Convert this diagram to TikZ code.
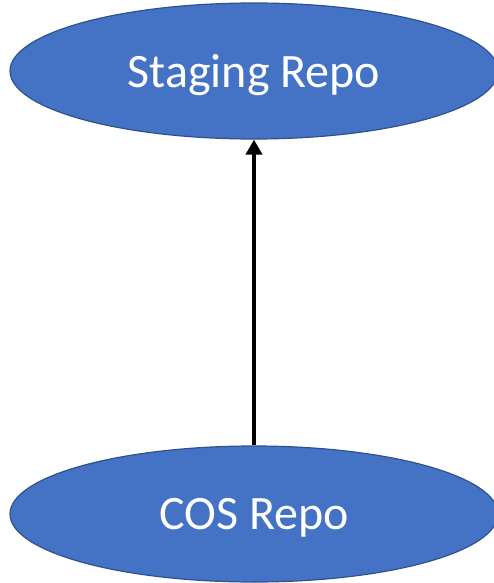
\documentclass[tikz,border=0pt]{standalone}
\usepackage{fontspec}
\setmainfont{Carlito}
\usetikzlibrary{shapes.geometric,arrows.meta}
\definecolor{fillblue}{HTML}{4472C4}
\definecolor{edgeblue}{HTML}{2F528F}
\tikzset{
  repo/.style={ellipse, draw=edgeblue, line width=1.2pt, fill=fillblue,
    minimum width=488pt, minimum height=136pt, inner sep=0pt,
    text depth=0pt, text=white, font=\fontsize{48}{56}\selectfont},
  flow/.style={line width=4pt, -{Triangle[length=15pt,width=16pt]}}
}
\begin{document}
\begin{tikzpicture}[x=1pt,y=1pt]
\useasboundingbox (0,0) rectangle (494,-583);
\node[repo] (staging) at (254,-71) {Staging Repo};
\node[repo] (cos) at (254,-514) {COS Repo};
\draw[flow] (cos.north) -- (staging.south);
\end{tikzpicture}
\end{document}
